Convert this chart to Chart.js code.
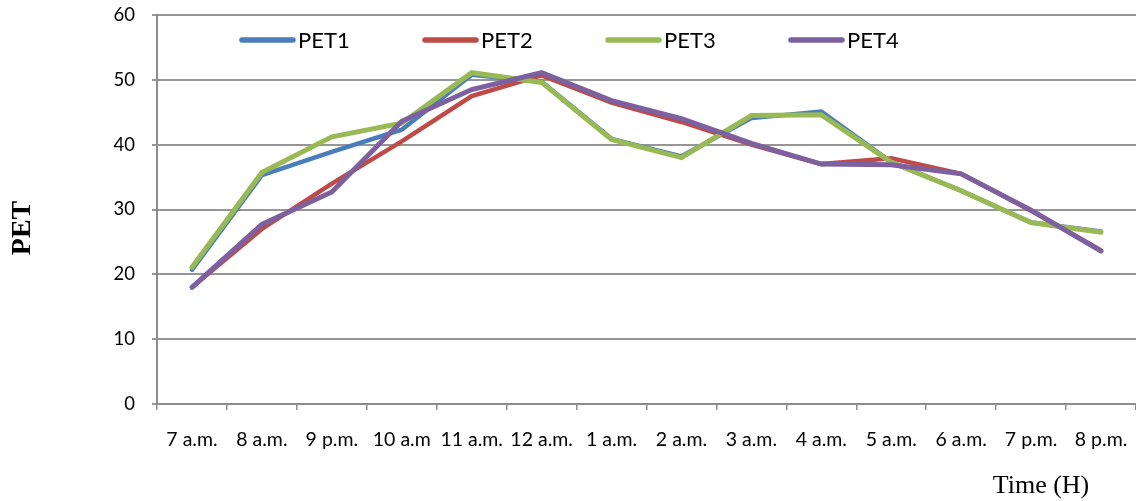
<!DOCTYPE html>
<html>
<head>
<meta charset="utf-8">
<script src="https://cdn.jsdelivr.net/npm/chart.js@4.4.0/dist/chart.umd.min.js"></script>
<style>
  html, body { margin: 0; padding: 0; background: #ffffff; }
  #wrap { width: 1136px; height: 501px; position: relative; }
</style>
</head>
<body>
<div id="wrap"><canvas id="c" width="1136" height="501"></canvas></div>
<script>
const categories = ["7 a.m.", "8 a.m.", "9 p.m.", "10 a.m", "11 a.m.", "12 a.m.", "1 a.m.", "2 a.m.", "3 a.m.", "4 a.m.", "5 a.m.", "6 a.m.", "7 p.m.", "8 p.m."];
const pet1 = [20.7, 35.3, 38.9, 42.3, 50.8, 49.7, 40.9, 38.2, 44.1, 45.1, 37.3, 32.9, 28.0, 26.6];
const pet2 = [18.0, 27.0, 34.0, 40.5, 47.5, 50.7, 46.5, 43.5, 40.0, 37.0, 37.9, 35.5, 29.8, 23.7];
const pet3 = [21.1, 35.7, 41.2, 43.3, 51.1, 49.6, 40.8, 38.0, 44.5, 44.6, 37.3, 32.9, 28.0, 26.5];
const pet4 = [18.0, 27.7, 32.7, 43.6, 48.5, 51.1, 46.8, 44.0, 40.2, 37.0, 36.9, 35.5, 29.9, 23.6];
const seriesNames = ["PET1", "PET2", "PET3", "PET4"];
const yTicks = [0, 10, 20, 30, 40, 50, 60];
const yTitle = "PET";
const xTitle = "Time (H)";

const colors = ["#4A7EBB", "#BE4B48", "#98B954", "#7D60A0"];
const widths = [4.5, 4.5, 5, 5];
const allData = [pet1, pet2, pet3, pet4];

const datasets = allData.map((d, i) => ({
  label: seriesNames[i],
  data: d,
  borderColor: colors[i],
  backgroundColor: colors[i],
  borderWidth: widths[i],
  pointRadius: 0,
  pointHoverRadius: 0,
  tension: 0,
  fill: false,
  borderCapStyle: 'round',
  borderJoinStyle: 'miter',
  order: 4 - i
}));

const customLegend = {
  id: 'customLegend',
  afterDatasetsDraw(chart) {
    const ctx = chart.ctx;
    const area = chart.chartArea;
    const startX = area.left + 83;
    const step = 183;
    const y = 40;
    ctx.save();
    ctx.font = '22px Lato';
    ctx.textBaseline = 'middle';
    ctx.textAlign = 'left';
    chart.data.datasets.forEach((ds, i) => {
      const x = startX + i * step;
      ctx.strokeStyle = ds.borderColor;
      ctx.lineWidth = 5.5;
      ctx.lineCap = 'round';
      ctx.beginPath();
      ctx.moveTo(x + 2, y);
      ctx.lineTo(x + 53, y);
      ctx.stroke();
      ctx.fillStyle = '#000000';
      ctx.fillText(ds.label, x + 58, y + 1);
    });
    ctx.restore();
  }
};

const axisTitles = {
  id: 'axisTitles',
  afterDraw(chart) {
    const ctx = chart.ctx;
    ctx.save();
    ctx.fillStyle = '#000000';
    ctx.font = 'bold 28px "Liberation Serif"';
    ctx.textAlign = 'center';
    ctx.textBaseline = 'middle';
    ctx.translate(23, 228);
    ctx.rotate(-Math.PI / 2);
    ctx.fillText(yTitle, 0, 0);
    ctx.restore();
    ctx.save();
    ctx.fillStyle = '#000000';
    ctx.font = '26px "Liberation Serif"';
    ctx.textAlign = 'center';
    ctx.textBaseline = 'middle';
    ctx.fillText(xTitle, 1041, 486);
    ctx.restore();
  }
};

new Chart(document.getElementById('c'), {
  type: 'line',
  data: { labels: categories, datasets: datasets },
  options: {
    responsive: false,
    animation: false,
    devicePixelRatio: 1,
    layout: { padding: { top: 15, right: 0, bottom: 0, left: 0 } },
    plugins: {
      legend: { display: false },
      tooltip: { enabled: false },
      title: { display: false }
    },
    scales: {
      x: {
        type: 'category',
        offset: true,
        afterFit(scale) {
          scale.height = 97;
          scale.paddingLeft = 0;
          scale.paddingRight = 0;
        },
        grid: {
          display: true,
          drawOnChartArea: false,
          drawTicks: true,
          tickLength: 6,
          offset: true,
          color: '#8c8c8c',
          lineWidth: 1.5
        },
        border: { display: true, color: '#8c8c8c', width: 2 },
        ticks: {
          color: '#000000',
          font: { family: 'Lato', size: 19.5 },
          padding: 18,
          maxRotation: 0,
          autoSkip: false
        }
      },
      y: {
        min: 0,
        max: 60,
        afterFit(scale) {
          scale.width = 157;
          scale.paddingTop = 0;
          scale.paddingBottom = 0;
        },
        afterBuildTicks(scale) { scale.ticks = yTicks.map(v => ({ value: v })); },
        grid: {
          color: '#969696',
          lineWidth: 2,
          drawTicks: true,
          tickLength: 5
        },
        border: { display: true, color: '#8c8c8c', width: 2 },
        ticks: {
          color: '#000000',
          font: { family: 'Lato', size: 18.5 },
          padding: 17
        }
      }
    }
  },
  plugins: [customLegend, axisTitles]
});
</script>
</body>
</html>
